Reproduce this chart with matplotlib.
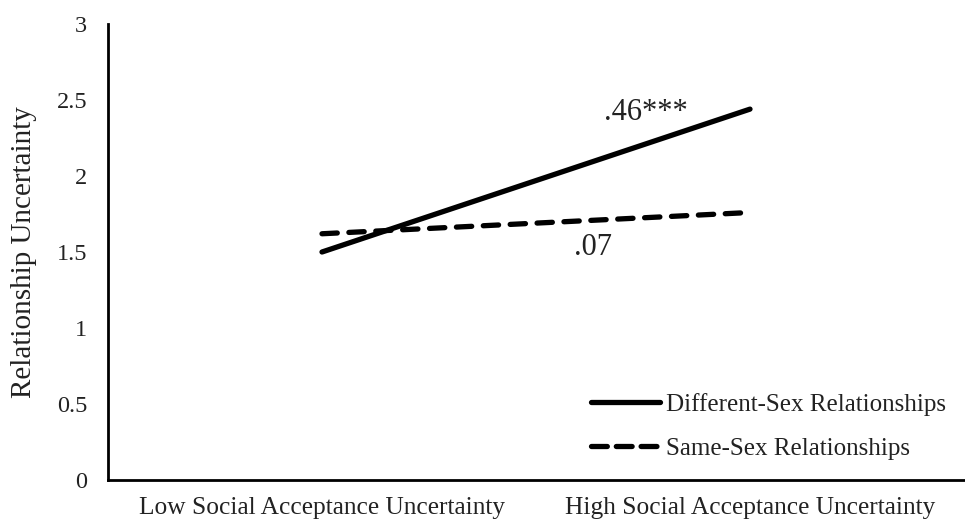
import matplotlib
matplotlib.use("Agg")
import matplotlib.pyplot as plt
from matplotlib.lines import Line2D

plt.rcParams['font.family'] = ['Liberation Serif', 'DejaVu Serif']

categories = ["Low Social Acceptance Uncertainty", "High Social Acceptance Uncertainty"]
different_sex = [1.50, 2.44]
same_sex = [1.62, 1.76]
slope_labels = [".46***", ".07"]
y_ticks = [0, 0.5, 1, 1.5, 2, 2.5, 3]
y_tick_labels = ["0", "0.5", "1", "1.5", "2", "2.5", "3"]

LW = 3.8
DASH = (2.9, 2.2)

fig = plt.figure(figsize=(9.65, 5.21), dpi=100)
ax = fig.add_axes([108 / 965, 41 / 521, 856 / 965, 456 / 521])

x = list(range(len(categories)))
ax.plot(x, different_sex, color="black", lw=LW, solid_capstyle="round")
ax.plot(x, same_sex, color="black", lw=LW, dashes=DASH, dash_capstyle="round")

ax.set_xlim(-0.5, 1.5)
ax.set_ylim(0, 3)
ax.set_yticks(y_ticks)
ax.set_yticklabels(y_tick_labels)
ax.set_xticks(x)
ax.set_xticklabels(categories)
ax.tick_params(axis="both", length=0, colors="#222222")
ax.tick_params(axis="y", pad=15, labelsize=17.5)
ax.tick_params(axis="x", pad=12, labelsize=18.3)

for side in ("top", "right"):
    ax.spines[side].set_visible(False)
for side in ("left", "bottom"):
    ax.spines[side].set_linewidth(2)
    ax.spines[side].set_color("black")

ax.set_ylabel("Relationship Uncertainty", fontsize=21, color="#222222", labelpad=14)

# slope annotations beside each line
ax.text(0.757, 2.37, slope_labels[0], fontsize=22, ha="center", va="baseline", color="#222222")
ax.text(0.634, 1.48, slope_labels[1], fontsize=22, ha="center", va="baseline", color="#222222")

handles = [
    Line2D([], [], color="black", lw=LW, solid_capstyle="round"),
    Line2D([], [], color="black", lw=LW, dashes=(3.0, 1.7), dash_capstyle="round"),
]
ax.legend(handles, ["Different-Sex Relationships", "Same-Sex Relationships"],
          loc="lower left", bbox_to_anchor=(0.550, 0.016), frameon=False,
          borderpad=0, fontsize=18, handlelength=2.75, handletextpad=0.22,
          labelspacing=0.87, labelcolor="#222222")

fig.savefig("out.png", dpi=100)
